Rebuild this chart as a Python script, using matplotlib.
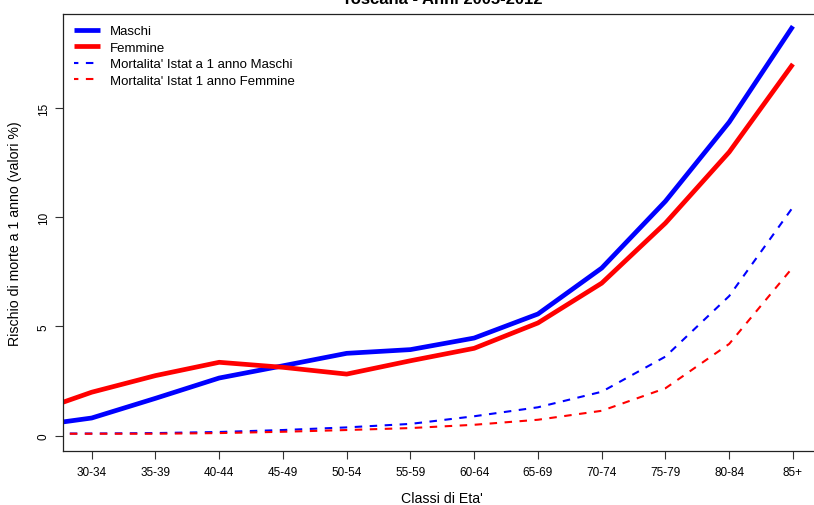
import numpy as np
import matplotlib.pyplot as plt

plt.rcParams["font.family"] = ["Liberation Sans", "DejaVu Sans"]

classi = ["30-34", "35-39", "40-44", "45-49", "50-54", "55-59",
          "60-64", "65-69", "70-74", "75-79", "80-84", "85+"]

# rischio di morte a 1 anno (%) per classe di eta'
maschi = [0.81, 1.71, 2.64, 3.20, 3.77, 3.94, 4.47, 5.57, 7.67, 10.73, 14.35, 18.74]
femmine = [1.99, 2.75, 3.36, 3.13, 2.82, 3.43, 4.00, 5.16, 6.98, 9.73, 12.98, 17.01]
istat_maschi = [0.10, 0.12, 0.17, 0.26, 0.38, 0.54, 0.89, 1.30, 2.01, 3.62, 6.39, 10.46]
istat_femmine = [0.09, 0.09, 0.12, 0.18, 0.26, 0.35, 0.50, 0.73, 1.14, 2.17, 4.20, 7.71]

# classe precedente (25-29), fuori dal range dell'asse
prec_maschi = 0.41
prec_femmine = 0.97
prec_istat_maschi = 0.10
prec_istat_femmine = 0.09

W, H = 814, 506
fig = plt.figure(figsize=(W / 100, H / 100), dpi=100)
x0, x1, y0, y1 = 63, 821.6, 15, 452
ax = fig.add_axes([x0 / W, 1 - y1 / H, (x1 - x0) / W, (y1 - y0) / H])

xs = np.arange(-1, len(classi))
ax.plot(xs, [prec_maschi] + maschi, color="#0000FF", lw=3.4, label="Maschi",
        solid_capstyle="butt")
ax.plot(xs, [prec_femmine] + femmine, color="#FF0000", lw=3.4, label="Femmine",
        solid_capstyle="butt")
ax.plot(xs, [prec_istat_maschi] + istat_maschi, color="#0000FF", lw=1.5,
        linestyle=(1.5, (3.6, 3.6)), label="Mortalita' Istat a 1 anno Maschi")
ax.plot(xs, [prec_istat_femmine] + istat_femmine, color="#FF0000", lw=1.5,
        linestyle=(1.5, (3.6, 3.6)), label="Mortalita' Istat 1 anno Femmine")

ax.set_xlim(-0.45, 11.45)
ax.set_ylim(-0.70, 19.30)
ax.set_xticks(range(len(classi)))
ax.set_xticklabels(classi)
ax.set_yticks([0, 5, 10, 15])
ax.tick_params(axis="both", labelsize=8.5, length=5.5, width=0.8, color="#333333")
ax.tick_params(axis="x", pad=5)
ax.tick_params(axis="y", pad=4)
plt.setp(ax.get_yticklabels(), rotation=90, va="center")
for s in ax.spines.values():
    s.set_linewidth(0.9)
    s.set_color("#222222")

ax.set_xlabel("Classi di Eta'", fontsize=10.2)
ax.xaxis.set_label_coords(0.5, (y1 - 499) / (y1 - y0))
ax.xaxis.label.set_va("center")
ax.set_ylabel("Rischio di morte a 1 anno (valori %)", fontsize=10.2)
ax.yaxis.set_label_coords((15 - x0) / (x1 - x0), 0.5)
ax.yaxis.label.set_va("center")

fig.text((x0 + x1) / 2 / W, 1 - 4 / H, "Toscana - Anni 2005-2012",
         ha="center", va="baseline", fontsize=12, fontweight="bold")

ax.legend(loc="upper left", bbox_to_anchor=(74 / W, 1 - 26 / H),
          bbox_transform=fig.transFigure, frameon=False, fontsize=9.5,
          borderpad=0, borderaxespad=0, handlelength=1.95, handletextpad=0.8,
          labelspacing=0.32)

fig.savefig("out.png", dpi=100)
